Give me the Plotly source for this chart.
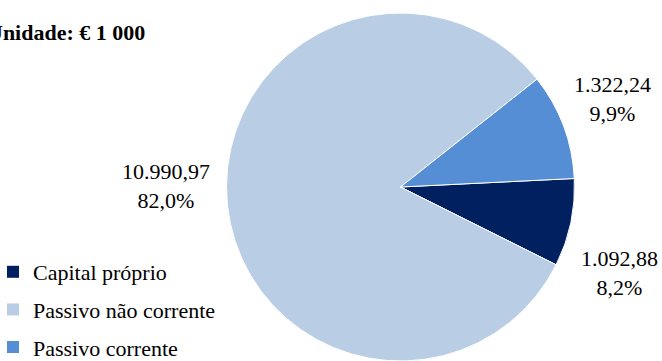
import plotly.graph_objects as go

# Estrutura do financiamento (unidade: € 1 000)
categorias = ["Capital próprio", "Passivo não corrente", "Passivo corrente"]
valores = [1092.88, 10990.97, 1322.24]
cores = ["#002060", "#B9CDE5", "#558ED5"]

W, H = 662, 361
FONTE = "Liberation Serif"


def fmt_pt(v, casas):
    s = f"{v:,.{casas}f}"
    return s.replace(",", "X").replace(".", ",").replace("X", ".")


total = sum(valores)
rotulos = [f"{fmt_pt(v, 2)}<br>{fmt_pt(100 * v / total, 1)}%" for v in valores]

# pie geometry in pixels
cx, cy, r = 400.5, 187.0, 174.0

fig = go.Figure()
fig.add_trace(go.Pie(
    labels=categorias,
    values=valores,
    marker=dict(colors=cores, line=dict(color="white", width=1)),
    sort=False,
    direction="clockwise",
    rotation=87.2,
    textinfo="none",
    hoverinfo="label+value+percent",
    showlegend=False,
    domain=dict(x=[(cx - r) / W, (cx + r) / W],
                y=[(H - (cy + r)) / H, (H - (cy - r)) / H]),
))

# legend entries, one group each so they can be spaced apart
for nome, cor in zip(categorias, cores):
    fig.add_trace(go.Scatter(
        x=[None], y=[None], mode="markers", name=nome, legendgroup=nome,
        marker=dict(symbol="square", size=12, color=cor),
    ))

# data labels next to each slice
pos_rotulos = [(619, 273), (166, 186), (612, 99)]
for txt, (px, py) in zip(rotulos, pos_rotulos):
    fig.add_annotation(
        x=px / W, y=1 - py / H, xref="paper", yref="paper",
        text=txt, showarrow=False, xanchor="center", yanchor="middle",
        font=dict(family=FONTE, size=22, color="#000000"),
    )

fig.add_annotation(
    x=-15 / W, y=1 - 32 / H, xref="paper", yref="paper",
    text="<b>Unidade: € 1 000</b>", showarrow=False,
    xanchor="left", yanchor="middle",
    font=dict(family=FONTE, size=22, color="#000000"),
)

fig.update_layout(
    width=W, height=H,
    margin=dict(l=0, r=0, t=0, b=0, autoexpand=False),
    paper_bgcolor="white", plot_bgcolor="white",
    xaxis=dict(visible=False), yaxis=dict(visible=False),
    legend=dict(
        x=-7 / W, y=1 - 251 / H, xanchor="left", yanchor="top",
        font=dict(family=FONTE, size=22, color="#000000"),
        tracegroupgap=6, itemclick=False, itemdoubleclick=False,
        bgcolor="rgba(0,0,0,0)",
    ),
    separators=",.",
)

fig.write_html("out.html")
